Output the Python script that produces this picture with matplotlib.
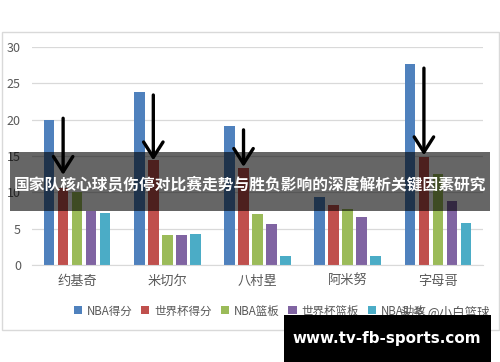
import matplotlib
matplotlib.use("Agg")
import matplotlib.pyplot as plt
from matplotlib.patches import Rectangle, Patch
import numpy as np

plt.rcParams["font.family"] = ["Noto Sans CJK SC", "DejaVu Sans"]

players = ["约基奇", "米切尔", "八村塁", "阿米努", "字母哥"]
series = ["NBA得分", "世界杯得分", "NBA篮板", "世界杯篮板", "NBA助攻"]
nba_pts = [20.0, 23.8, 19.2, 9.4, 27.6]
wc_pts = [10.6, 14.4, 13.3, 8.2, 14.8]
nba_reb = [10.1, 4.1, 7.0, 7.7, 12.5]
wc_reb = [7.4, 4.1, 5.6, 6.6, 8.8]
nba_ast = [7.2, 4.2, 1.2, 1.2, 5.8]
colors = ["#4F81BD", "#C0504D", "#9BBB59", "#8064A2", "#4BACC6"]

# arrows pointing at the world-cup scoring bars (player index, start, end)
arrow_idx = [0, 1, 2, 4]
arrow_from = [20.2, 23.4, 18.6, 27.1]
arrow_to = [12.4, 14.4, 13.5, 15.1]

title = "国家队核心球员伤停对比赛走势与胜负影响的深度解析关键因素研究"

fig = plt.figure(figsize=(5.0, 3.62), dpi=100)
ax = fig.add_axes([0.064, 0.268, 0.902, 0.602])

x = np.arange(len(players))
slot = 0.155
width = 0.117
values = [nba_pts, wc_pts, nba_reb, wc_reb, nba_ast]
for i, (vals, c) in enumerate(zip(values, colors)):
    ax.bar(x + (i - 2) * slot, vals, width, color=c, zorder=2)

for idx, y0, y1 in zip(arrow_idx, arrow_from, arrow_to):
    xa = x[idx] - slot
    ax.annotate("", xy=(xa, y1), xytext=(xa, y0),
                arrowprops=dict(arrowstyle="->,head_length=0.55,head_width=0.35",
                                lw=2.4, color="black", mutation_scale=20,
                                shrinkA=0, shrinkB=0), zorder=4)

ax.set_xlim(-0.5, 4.5)
ax.set_ylim(0, 30)
ax.set_yticks([0, 5, 10, 15, 20, 25, 30])
ax.set_xticks(x)
ax.set_xticklabels(players)
ax.grid(axis="y", color="#d9d9d9", lw=0.9, zorder=0)
for s in ["top", "right", "left"]:
    ax.spines[s].set_visible(False)
ax.spines["bottom"].set_color("#d9d9d9")
ax.tick_params(axis="both", length=0, colors="#595959")
ax.tick_params(axis="y", labelsize=9, pad=8)
ax.tick_params(axis="x", labelsize=9.5, pad=7)

# chart frame
fig.add_artist(Rectangle((0.004, 0.088), 0.994, 0.824, transform=fig.transFigure,
                         fill=False, edgecolor="#d9d9d9", lw=1.0))

handles = [Patch(facecolor=c, edgecolor="none") for c in colors]
fig.legend(handles, series, loc="center", bbox_to_anchor=(0.5, 0.141), ncol=5,
           frameon=False, fontsize=8.3, handlelength=0.7, handleheight=0.7,
           handletextpad=0.4, columnspacing=0.8, labelcolor="#595959")

# dark overlay band with title
fig.add_artist(Rectangle((0.02, 0.417), 0.96, 0.163, transform=fig.transFigure,
                         facecolor="black", alpha=0.6, edgecolor="none", zorder=5))
fig.text(0.5, 0.489, title, ha="center", va="center", color="white",
         fontsize=11.3, fontweight="bold", zorder=6)

# watermarks
fig.text(0.89, 0.138, "头条 @小白篮球", ha="center", va="center", color="#555555",
         fontsize=9, zorder=6)
fig.add_artist(Rectangle((0.568, 0.0), 0.414, 0.13, transform=fig.transFigure,
                         facecolor="black", edgecolor="none", zorder=7))
fig.text(0.774, 0.066, "www.tv-fb-sports.com", ha="center", va="center",
         color="white", fontsize=10.9, fontweight="bold", family="DejaVu Sans", zorder=8)

fig.savefig("out.png", dpi=100)
